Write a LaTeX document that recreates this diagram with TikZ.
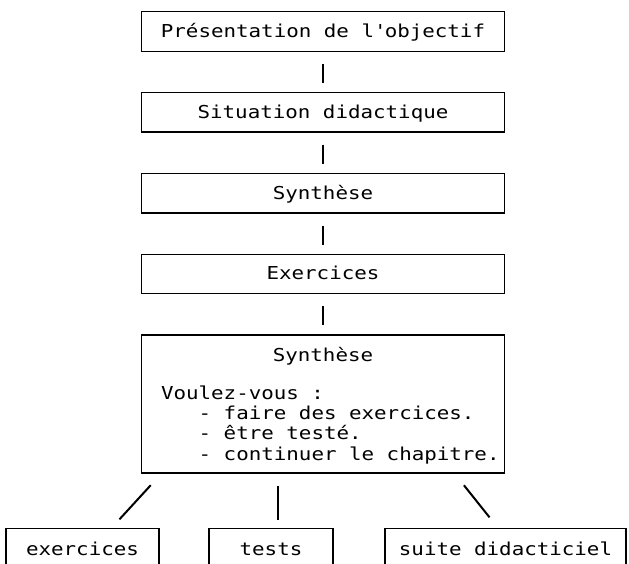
\documentclass[tikz,border=0pt]{standalone}
\usepackage{fontspec}
\setmainfont{DejaVu Sans Mono}[FakeStretch=1.17]
\usetikzlibrary{positioning}

\tikzset{
	stage/.style={draw,line width=1.3pt,minimum width=363pt,minimum height=39.5pt,inner sep=0pt,text height=15pt,text depth=3pt},
	choice/.style={draw,line width=1.3pt,minimum height=45pt,inner sep=0pt,anchor=north,text height=15pt,text depth=6pt},
	link/.style={line width=2pt}
}

\begin{document}
\begin{tikzpicture}[x=1pt,y=-1pt,font=\fontsize{17.8}{20.3}\selectfont]
	\clip (0,0) rectangle (629,563);
	\fill[white] (0,0) rectangle (629,563);

	\node[stage] (objectif) at (323,31.5) {Présentation de l\textquotesingle objectif};
	\node[stage,below=40pt of objectif] (situation) {Situation didactique};
	\node[stage,below=40pt of situation] (synthese) {Synthèse};
	\node[stage,below=40pt of synthese] (exercices) {Exercices};
	\node[stage,below=40pt of exercices,minimum height=138pt] (bilan) {};

	\node[anchor=base,inner sep=0pt] (bilantitre) at ([yshift=-27pt]bilan.north) {Synthèse};
	\node[anchor=base west,inner sep=0pt] (question) at ([xshift=20pt,yshift=-65pt]bilan.north west) {Voulez-vous :};
	\node[anchor=base west,inner sep=0pt] (rep1) at ([yshift=-20.3pt]question.base west) {\phantom{xxx}- faire des exercices.};
	\node[anchor=base west,inner sep=0pt] (rep2) at ([yshift=-20.3pt]rep1.base west) {\phantom{xxx}- être testé.};
	\node[anchor=base west,inner sep=0pt] (rep3) at ([yshift=-20.3pt]rep2.base west) {\phantom{xxx}- continuer le chapitre.};

	\node[choice,minimum width=153pt] (exo) at (82.5,528) {exercices};
	\node[choice,minimum width=124pt] (test) at (271,528) {tests};
	\node[choice,minimum width=241pt] (suite) at (505.5,528) {suite didacticiel};

	% liens verticaux
	\draw[link,shorten <=12pt,shorten >=9pt] (objectif) -- (situation);
	\draw[link,shorten <=12pt,shorten >=9pt] (situation) -- (synthese);
	\draw[link,shorten <=12pt,shorten >=9pt] (synthese) -- (exercices);
	\draw[link,shorten <=12pt,shorten >=9pt] (exercices) -- (bilan);

	% choix
	\draw[link,shorten <=15.7pt,shorten >=11.8pt] ([xshift=20.5pt]bilan.south west) -- ([xshift=29pt]exo.north);
	\draw[link,shorten <=12pt,shorten >=8pt] ([xshift=7pt]test.north |- bilan.south) -- ([xshift=7pt]test.north);
	\draw[link,shorten <=14.9pt,shorten >=13.6pt] ([xshift=-50.5pt]bilan.south east) -- ([xshift=-7.5pt]suite.north);
\end{tikzpicture}
\end{document}
